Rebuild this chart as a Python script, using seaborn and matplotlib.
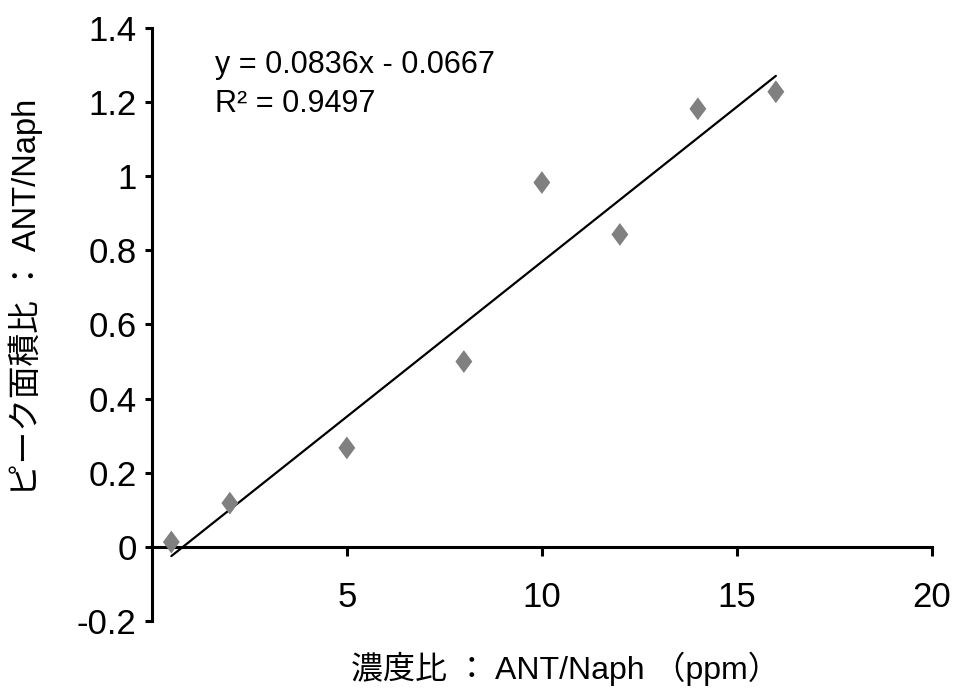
import matplotlib
matplotlib.use("Agg")
import matplotlib.pyplot as plt
import seaborn as sns
import pandas as pd
import numpy as np

# data
conc_ratio = [0.5, 2, 5, 8, 10, 12, 14, 16]
area_ratio = [0.013, 0.118, 0.267, 0.500, 0.983, 0.843, 1.182, 1.228]
slope = 0.0836
intercept = -0.0667
eq_text = "y = 0.0836x - 0.0667"
r2_text = "R² = 0.9497"
x_ticks = [5, 10, 15, 20]
y_ticks = [-0.2, 0, 0.2, 0.4, 0.6, 0.8, 1.0, 1.2, 1.4]
y_tick_labels = ["-0.2", "0", "0.2", "0.4", "0.6", "0.8", "1", "1.2", "1.4"]
x_label = "濃度比 ： ANT/Naph （ppm）"
y_label = "ピーク面積比 ： ANT/Naph"

sns.set_theme(style="white")
plt.rcParams['font.family'] = ['Liberation Sans', 'Noto Sans CJK JP', 'DejaVu Sans']
plt.rcParams['text.color'] = 'black'

df = pd.DataFrame({"x": conc_ratio, "y": area_ratio})
fit_x = np.array([min(conc_ratio), max(conc_ratio)])
fit_df = pd.DataFrame({"x": fit_x, "y": slope * fit_x + intercept})

fig = plt.figure(figsize=(9.61, 6.95), dpi=100)
ax = fig.add_axes([0.158, 0.1065, 0.8117, 0.8532])

sns.lineplot(data=fit_df, x="x", y="y", ax=ax, color="black", linewidth=1.6, zorder=2)
diamond = [(0, 1), (0.74, 0), (0, -1), (-0.74, 0), (0, 1)]
sns.scatterplot(data=df, x="x", y="y", ax=ax, marker=diamond, s=270,
                color="#808080", edgecolor="none", zorder=3)

ax.set_xlim(0, 20)
ax.set_ylim(-0.2, 1.4)
ax.set_xticks(x_ticks)
ax.set_xticklabels([str(t) for t in x_ticks])
ax.set_yticks(y_ticks)
ax.set_yticklabels(y_tick_labels)

for s in ["top", "right"]:
    ax.spines[s].set_visible(False)
ax.spines["left"].set_position(("data", 0))
ax.spines["bottom"].set_position(("data", 0))
for s in ["left", "bottom"]:
    ax.spines[s].set_linewidth(2.2)
    ax.spines[s].set_color("black")

ax.tick_params(axis="x", bottom=True, direction="out", length=6.5, width=2.2,
               labelsize=25, pad=18, colors="black")
ax.tick_params(axis="y", left=True, direction="out", length=5, width=2.2,
               labelsize=25, pad=6, colors="black")
ax.set_xlabel("")
ax.set_ylabel("")

fig.text(0.588, 0.037, x_label, ha="center", va="center", fontsize=23, color="black")
fig.text(0.027, 0.572, y_label, ha="center", va="center", rotation=90, fontsize=23.5, color="black")

ax.text(0.224, 0.895, eq_text, transform=fig.transFigure, ha="left", va="baseline",
        fontsize=22, color="black")
ax.text(0.224, 0.839, r2_text, transform=fig.transFigure, ha="left", va="baseline",
        fontsize=22, color="black")

ax.grid(False)
fig.savefig("out.png", dpi=100)
